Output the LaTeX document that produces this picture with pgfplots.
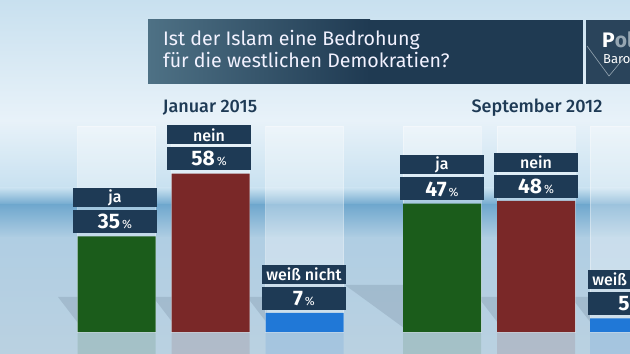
\documentclass[border=0pt]{standalone}
\usepackage{pgfplots}
\pgfplotsset{compat=1.18}
\usepackage{fontspec}
\setmainfont{Fira Sans}
\newfontfamily\firamed{Fira Sans Medium}
\definecolor{navy}{RGB}{30,58,85}
\definecolor{titleL}{RGB}{78,113,133}
\definecolor{titleR}{RGB}{31,58,82}
\definecolor{bgA}{RGB}{200,224,239}
\definecolor{bgB}{RGB}{232,242,249}
\definecolor{bgC}{RGB}{200,225,240}
\definecolor{bgD}{RGB}{112,168,206}
\definecolor{bgE}{RGB}{176,206,227}
\definecolor{bgF}{RGB}{186,209,225}
\definecolor{shadowc}{RGB}{140,163,182}
\definecolor{jagreen}{RGB}{27,92,27}
\definecolor{neinred}{RGB}{122,40,40}
\definecolor{wnblue}{RGB}{32,120,215}
\definecolor{logogrey}{RGB}{150,166,178}
\tikzset{
  valbox/.style={anchor=south, yshift=3bp, minimum width=84bp, minimum height=23bp,
                 inner sep=0, fill=navy, text=white},
  labbox/.style={anchor=south, yshift=29bp, minimum width=84bp, minimum height=19bp,
                 inner sep=0, fill=navy, text=white,
                 font=\firamed\fontsize{16bp}{16bp}\selectfont},
}
\newcommand{\val}[1]{{\fontsize{21bp}{21bp}\selectfont\bfseries #1}\hspace{2bp}{\fontsize{12bp}{12bp}\selectfont\%}}
\begin{document}
\begin{tikzpicture}
\useasboundingbox (0,0) rectangle (630bp,354bp);
\clip (0,0) rectangle (630bp,354bp);
% ---- background (x right, y up, 1 unit = 1 pixel)
\begin{scope}[x=1bp,y=1bp]
  \shade[top color=bgA, bottom color=bgB] (0,354) rectangle (630,234);
  \shade[top color=bgB, bottom color=bgC] (0,234) rectangle (630,166);
  \shade[top color=bgC, bottom color=bgD] (0,166) rectangle (630,149);
  \shade[top color=bgD, bottom color=bgE] (0,149) rectangle (630,116);
  \shade[top color=bgE, bottom color=bgF] (0,116) rectangle (630,0);
  % floor shadows
  \fill[shadowc, opacity=0.45] (58,57) -- (78,57) -- (78,31) -- cycle;
  \fill[shadowc, opacity=0.45] (153,57) -- (173,57) -- (173,31) -- cycle;
  \fill[shadowc, opacity=0.45] (247,57) -- (267,57) -- (267,31) -- cycle;
  \fill[shadowc, opacity=0.45] (345,69) -- (404,69) -- (404,26) -- cycle;
  \fill[shadowc, opacity=0.45] (478,57) -- (498,57) -- (498,31) -- cycle;
  \fill[shadowc, opacity=0.45] (571,57) -- (591,57) -- (591,31) -- cycle;
  % title box
  \shade[left color=titleL, right color=titleR] (148,334) rectangle (370,270);
  \fill[titleR] (369,334) rectangle (583,270);
  \fill[titleR!95!white] (586,334) rectangle (640,270);
  \draw[logogrey, line width=0.6bp] (587,308) -- (609,278) -- (624,296);
  \node[anchor=base west, inner sep=0, text=white!95!blue,
        font=\fontsize{19.6bp}{19.6bp}\selectfont] at (163,309) {Ist der Islam eine Bedrohung};
  \node[anchor=base west, inner sep=0, text=white!95!blue,
        font=\fontsize{19.6bp}{19.6bp}\selectfont] at (163,287) {für die westlichen Demokratien?};
  \node[anchor=base west, inner sep=0, text=white,
        font=\fontsize{21bp}{21bp}\selectfont\bfseries] at (602,307) {P\textcolor{logogrey}{olit}};
  \node[anchor=base west, inner sep=0, text=white,
        font=\fontsize{13bp}{13bp}\selectfont] at (603,291) {Barometer};
  % period headings
  \node[anchor=base, inner sep=0, text=navy,
        font=\firamed\fontsize{18bp}{18bp}\selectfont] at (210,242) {Januar 2015};
  \node[anchor=base, inner sep=0, text=navy,
        font=\firamed\fontsize{18bp}{18bp}\selectfont] at (537,242) {September 2012};
\end{scope}
% ---- data
\begin{axis}[
  at={(0,0)}, anchor=south west,
  scale only axis, width=630bp, height=354bp,
  xmin=0, xmax=630, ymin=-8.06, ymax=121.6,
  hide axis, clip=true,
]
% ghost columns
\addplot[ybar, bar width=78, bar shift=0pt, fill=white, fill opacity=0.32,
         draw=white, draw opacity=0.35] coordinates
  {(116.5,75.5) (210.5,75.5) (304.5,75.5) (442,75.5) (536,75.5) (629,75.5)};
% reflections
\addplot[ybar, bar width=78, bar shift=0pt, fill=jagreen, fill opacity=0.13, draw=none]
  coordinates {(116.5,-8.1) (442,-8.1)};
\addplot[ybar, bar width=78, bar shift=0pt, fill=neinred, fill opacity=0.13, draw=none]
  coordinates {(210.5,-8.1) (536,-8.1)};
\addplot[ybar, bar width=78, bar shift=0pt, fill=wnblue, fill opacity=0.13, draw=none]
  coordinates {(304.5,-8.1) (629,-8.1)};
% bars: ja, nein, weiss nicht (Januar 2015 / September 2012)
\addplot[ybar, bar width=78, bar shift=0pt, fill=jagreen, draw=none]
  coordinates {(116.5,35) (442,47)};
\addplot[ybar, bar width=78, bar shift=0pt, fill=neinred, draw=none]
  coordinates {(210.5,58) (536,48)};
\addplot[ybar, bar width=78, bar shift=0pt, fill=wnblue, draw=none]
  coordinates {(304.5,7) (629,5)};
% labels
\node[valbox] at (axis cs:115,35) {\val{35}};
\node[labbox] at (axis cs:115,35) {ja};
\node[valbox] at (axis cs:209,58) {\val{58}};
\node[labbox] at (axis cs:209,58) {nein};
\node[valbox] at (axis cs:304,7) {\val{7}};
\node[labbox] at (axis cs:304,7) {weiß nicht};
\node[valbox] at (axis cs:442,47) {\val{47}};
\node[labbox] at (axis cs:442,47) {ja};
\node[valbox] at (axis cs:536,48) {\val{48}};
\node[labbox] at (axis cs:536,48) {nein};
\node[valbox] at (axis cs:630,5) {\val{5}};
\node[labbox] at (axis cs:630,5) {weiß nicht};
\end{axis}
\end{tikzpicture}
\end{document}
